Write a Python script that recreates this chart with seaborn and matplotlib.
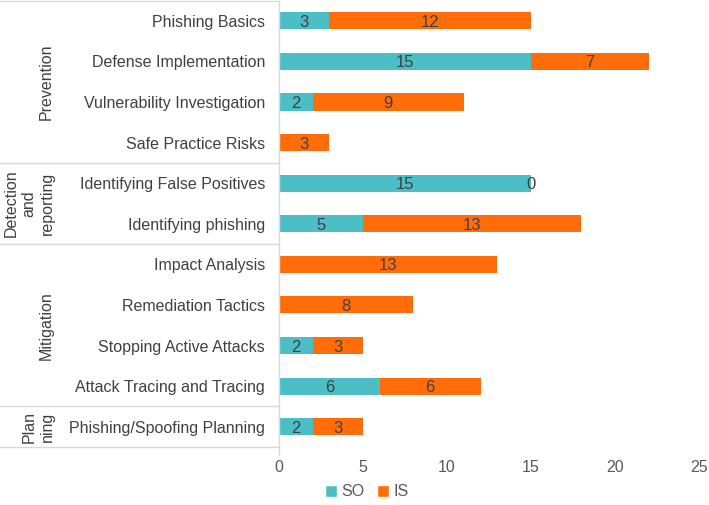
import matplotlib
matplotlib.use("Agg")
import matplotlib.pyplot as plt
import matplotlib.transforms as mtransforms
from matplotlib.patches import Patch
import seaborn as sns
import pandas as pd

categories = ["Phishing Basics", "Defense Implementation", "Vulnerability Investigation",
              "Safe Practice Risks", "Identifying False Positives", "Identifying phishing",
              "Impact Analysis", "Remediation Tactics", "Stopping Active Attacks",
              "Attack Tracing and Tracing", "Phishing/Spoofing Planning"]
so_values = [3, 15, 2, 0, 15, 5, 0, 0, 2, 6, 2]
is_values = [12, 7, 9, 3, 0, 13, 13, 8, 3, 6, 3]
so_shown = [True, True, True, False, True, True, False, False, True, True, True]
groups = [("Prevention", 0, 3), ("Detection\nand\nreporting", 4, 5),
          ("Mitigation", 6, 9), ("Plan\nning", 10, 10)]
x_ticks = [0, 5, 10, 15, 20, 25]

TEAL = "#4BBEC6"
ORANGE = "#FF6D0A"
TXT = "#404040"
GRID = "#D9D9D9"
FS = 11.5

sns.set_style("white")
plt.rcParams['font.family'] = ['Liberation Sans', 'DejaVu Sans']

df = pd.DataFrame({"cat": categories, "SO": so_values, "IS": is_values})
df["total"] = df["SO"] + df["IS"]

fig = plt.figure(figsize=(7.09, 5.05), dpi=100)
ax = fig.add_axes([279/709, 1 - 447/505, 420/709, 447/505 - 0.001])

sns.barplot(data=df, y="cat", x="total", color=ORANGE, orient="h", width=0.42,
            saturation=1, linewidth=0, ax=ax)
sns.barplot(data=df, y="cat", x="SO", color=TEAL, orient="h", width=0.42,
            saturation=1, linewidth=0, ax=ax)

ax.set_xlim(0, 25)
ax.set_ylim(10.5, -0.5)
ax.set_xticks(x_ticks)
ax.set_xticklabels([str(t) for t in x_ticks], fontsize=FS, color="#595959")
ax.tick_params(axis="x", length=0, pad=9)
ax.tick_params(axis="y", length=0, pad=10, labelsize=FS, labelcolor=TXT)
ax.set_xlabel("")
ax.set_ylabel("")
for s in ["top", "right", "bottom"]:
    ax.spines[s].set_visible(False)
ax.spines["left"].set_color(GRID)
ax.spines["left"].set_linewidth(1.0)

# data labels
for i in range(len(categories)):
    so, iv = so_values[i], is_values[i]
    if so_shown[i]:
        ax.text(so / 2, i, str(so), ha="center", va="center_baseline", fontsize=12, color=TXT)
    ax.text(so + iv / 2, i, str(iv), ha="center", va="center_baseline", fontsize=12, color=TXT)

# group table lines and labels
trans = mtransforms.blended_transform_factory(ax.transAxes, ax.transData)
x_left = -279 / 420
for yb in [-0.5, 3.5, 5.5, 9.5, 10.5]:
    ax.plot([x_left, 0], [yb, yb], color=GRID, lw=1.0, transform=trans, clip_on=False)
ax.plot([0, 0], [10.5, 10.7], color=GRID, lw=1.0, transform=trans, clip_on=False)

label_x = {"Prevention": 46, "Detection\nand\nreporting": 29, "Mitigation": 46, "Plan\nning": 38}
for name, a, b in groups:
    xf = (label_x[name] - 279) / 420
    ax.text(xf, (a + b) / 2, name, rotation=90, ha="center", va="center",
            fontsize=FS, color=TXT, transform=trans, linespacing=1.25,
            multialignment="center")

handles = [Patch(facecolor=TEAL, label="SO"), Patch(facecolor=ORANGE, label="IS")]
leg = fig.legend(handles=handles, loc="center", bbox_to_anchor=(367/709, 1 - 492/505),
                 ncol=2, frameon=False, handlelength=0.7, handleheight=0.7,
                 columnspacing=0.8, handletextpad=0.3, fontsize=FS)
for t in leg.get_texts():
    t.set_color("#595959")

fig.savefig("out.png", dpi=100)
